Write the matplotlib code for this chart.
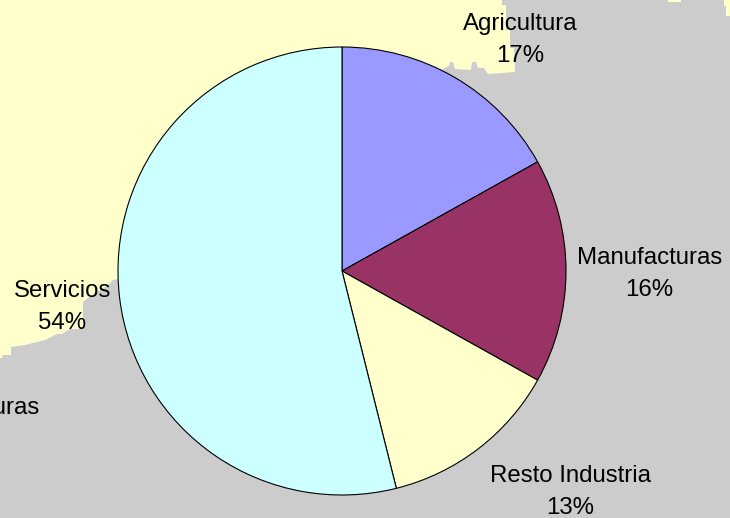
import matplotlib
matplotlib.use("Agg")
import matplotlib.pyplot as plt
from matplotlib.patches import Polygon

categories = ["Agricultura", "Manufacturas", "Resto Industria", "Servicios"]
values = [16.9, 16.2, 13.0, 53.9]
pct_labels = ["17%", "16%", "13%", "54%"]
colors = ["#9999FF", "#993366", "#FFFFCC", "#CCFFFF"]

W, H = 730, 518
plt.rcParams['font.family'] = ['Liberation Sans', 'DejaVu Sans']
fig = plt.figure(figsize=(W / 100, H / 100), dpi=100, facecolor="#CCCCCC")
ax = fig.add_axes([0, 0, 1, 1])
ax.set_facecolor("#CCCCCC")

def Y(y):
    return H - y

# Pale yellow background land shape
land = [(0, 0), (502, 0), (502, 5), (506, 5), (506, 30), (510, 30), (510, 48), (514, 48), (515, 72),
        (488, 74), (484, 68), (478, 68), (476, 62), (472, 62), (471, 70), (455, 69), (453, 62),
        (450, 62), (449, 66), (342, 120), (342, 271), (118, 279), (113, 280), (108, 285), (88, 298),
        (83, 302), (83, 329), (70, 329), (62, 334), (57, 334), (45, 340), (25, 345), (11, 347),
        (11, 355), (3, 355), (2, 358), (0, 358)]
ax.add_patch(Polygon([(x, Y(y)) for x, y in land], closed=True, fc="#FFFFCC", ec="none", zorder=1))
for patch_pts in ([(668, 0), (681, 0), (681, 2), (668, 2)],
                  [(724, 0), (730, 0), (730, 16), (726, 16), (726, 6), (724, 6)]):
    ax.add_patch(Polygon([(x, Y(y)) for x, y in patch_pts], closed=True, fc="#FFFFCC", ec="none", zorder=1))

wedges, _ = ax.pie(values, colors=colors, startangle=90, counterclock=False,
                   center=(342, Y(271)), radius=224, frame=True,
                   wedgeprops=dict(edgecolor="black", linewidth=0.8, zorder=2))

FS = 17.3
label_pos = [(520.5, 24, 56), (649.5, 258, 290), (570, 476, 508), (62.5, 291, 323)]
for name, pct, (x, y1, y2) in zip(categories, pct_labels, label_pos):
    ax.text(x, Y(y1), name, ha="center", va="center", fontsize=FS, color="black", zorder=5)
    ax.text(x, Y(y2), pct, ha="center", va="center", fontsize=FS, color="black", zorder=5)

# Neighbouring label clipped by the left edge
ax.text(39, Y(408), "Manufacturas", ha="right", va="center", fontsize=FS, color="black", zorder=5)

ax.set_xlim(0, W)
ax.set_ylim(0, H)
ax.set_aspect("auto")
ax.axis("off")
fig.savefig("out.png", dpi=100, facecolor=fig.get_facecolor())
